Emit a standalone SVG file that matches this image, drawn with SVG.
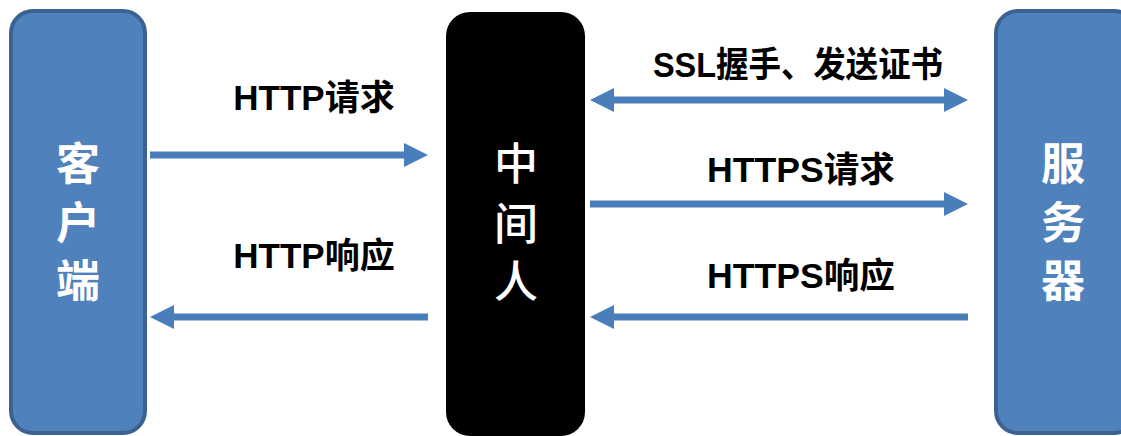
<svg xmlns="http://www.w3.org/2000/svg" width="1121" height="436" viewBox="0 0 1121 436">
<defs>
<style>
.box{fill:#4f81bd;stroke:#3b6291;stroke-width:4}
.mid{fill:#000000}
.ntext{font-family:"Noto Sans CJK SC","Liberation Sans",sans-serif;font-size:44px;font-weight:bold;fill:#ffffff;text-anchor:middle}
.ntext2{font-family:"Noto Sans CJK SC","Liberation Sans",sans-serif;font-size:44px;font-weight:500;fill:#ffffff;text-anchor:middle}
.lbl{font-family:"Liberation Sans","Noto Sans CJK SC",sans-serif;font-size:35px;font-weight:bold;fill:#000000;text-anchor:middle}
.ln{stroke:#4a7ebb;stroke-width:7;fill:none}
.hd{fill:#4a7ebb}
</style>
</defs>
<g id="client">
<rect class="box" x="11" y="11" width="134" height="422" rx="22"/>
<text class="ntext" x="78" y="180">客</text>
<text class="ntext" x="78" y="239">户</text>
<text class="ntext" x="78" y="297">端</text>
</g>
<g id="mitm">
<rect class="mid" x="446" y="12" width="139" height="424" rx="24"/>
<text class="ntext2" x="516" y="180">中</text>
<text class="ntext2" x="516" y="240">间</text>
<text class="ntext2" x="516" y="298">人</text>
</g>
<g id="server">
<rect class="box" x="996" y="11" width="140" height="422" rx="22"/>
<text class="ntext" x="1063" y="180">服</text>
<text class="ntext" x="1063" y="239">务</text>
<text class="ntext" x="1063" y="297">器</text>
</g>
<g id="connectors">
<line class="ln" x1="150" y1="155" x2="406" y2="155"/>
<polygon class="hd" points="404,143 428,155 404,167"/>
<line class="ln" x1="428" y1="317" x2="172" y2="317"/>
<polygon class="hd" points="174,305 150,317 174,329"/>
<line class="ln" x1="612" y1="100" x2="946" y2="100"/>
<polygon class="hd" points="614,88 590,100 614,112"/>
<polygon class="hd" points="944,88 968,100 944,112"/>
<line class="ln" x1="590" y1="204" x2="946" y2="204"/>
<polygon class="hd" points="944,192 968,204 944,216"/>
<line class="ln" x1="968" y1="317" x2="612" y2="317"/>
<polygon class="hd" points="614,305 590,317 614,329"/>
</g>
<g id="labels">
<text class="lbl" x="314" y="110">HTTP请求</text>
<text class="lbl" x="314" y="268">HTTP响应</text>
<text class="lbl" x="798" y="77" textLength="290" lengthAdjust="spacingAndGlyphs">SSL握手、发送证书</text>
<text class="lbl" x="801" y="182" textLength="188" lengthAdjust="spacingAndGlyphs">HTTPS请求</text>
<text class="lbl" x="801" y="288" textLength="188" lengthAdjust="spacingAndGlyphs">HTTPS响应</text>
</g>
</svg>
